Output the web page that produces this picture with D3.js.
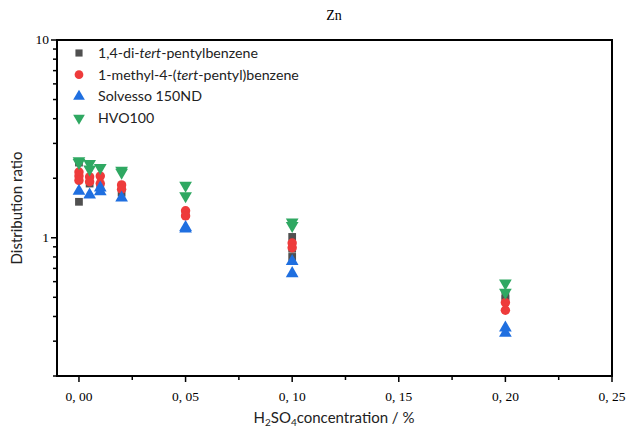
<!DOCTYPE html>
<html><head><meta charset="utf-8">
<script src="https://cdn.jsdelivr.net/npm/d3@7"></script>
<style>body{margin:0;background:#fff}</style>
</head><body><svg id="c" width="627" height="430"></svg>
<script>
const seriesNames = ["1,4-di-tert-pentylbenzene","1-methyl-4-(tert-pentyl)benzene","Solvesso 150ND","HVO100"];
const s1x = [0,0,0.005,0.01,0.02,0.05,0.1,0.1,0.1,0.2,0.2];
const s1y = [2.40,1.52,1.88,1.80,1.69,1.33,1.01,0.88,0.80,0.51,0.49];
const s2x = [0,0,0,0.005,0.005,0.01,0.01,0.02,0.02,0.05,0.05,0.1,0.1,0.2,0.2];
const s2y = [2.15,2.05,1.95,2.03,1.92,2.05,1.88,1.85,1.76,1.37,1.29,0.94,0.89,0.47,0.43];
const s3x = [0,0.005,0.01,0.01,0.02,0.05,0.05,0.1,0.1,0.2,0.2];
const s3y = [1.72,1.65,1.79,1.71,1.59,1.13,1.11,0.76,0.66,0.35,0.33];
const s4x = [0,0,0.005,0.005,0.01,0.02,0.02,0.05,0.05,0.1,0.1,0.2,0.2];
const s4y = [2.45,2.40,2.37,2.22,2.26,2.19,2.14,1.84,1.63,1.20,1.15,0.59,0.53];
const xTicks = [0,0.05,0.10,0.15,0.20,0.25];
const xTickLabels = ["0, 00","0, 05","0, 10","0, 15","0, 20","0, 25"];
const yTicks = [1,10];
const yTickLabels = ["1","10"];

const colors = ["#505050","#ee3b3b","#1f6fe0","#2fa862"];
const shapes = [d3.symbolSquare, d3.symbolCircle, d3.symbolTriangle, d3.symbolTriangle];
const sizes = [60, 70, 70, 70];

const svg = d3.select("#c");
const L=57, R=612, T=40, B=376;
const x = d3.scaleLinear().domain([-0.0103,0.25]).range([L,R]);
const y = d3.scaleLog().domain([0.2,10]).range([B,T]);

// frame
svg.append("rect").attr("x",L).attr("y",T).attr("width",R-L).attr("height",B-T)
  .attr("fill","none").attr("stroke","#000").attr("stroke-width",2);

// x axis
const xMinor = d3.range(0,0.2501,0.025);
svg.append("g").selectAll("line").data(xMinor).join("line")
  .attr("x1",d=>x(d)).attr("x2",d=>x(d)).attr("y1",B).attr("y2",d=>B+ (Math.abs(Math.round(d/0.05)*0.05-d)<1e-9?6:4))
  .attr("stroke","#000").attr("stroke-width",1.5);
svg.append("g").selectAll("text").data(xTicks).join("text")
  .attr("x",d=>x(d)).attr("y",401).attr("text-anchor","middle")
  .attr("font-family","Liberation Serif, serif").attr("font-size",13.5)
  .text((d,i)=>xTickLabels[i]);

// y axis
const yMinor = [];
[0.1,1].forEach(b=>{for(let k=2;k<=9;k++){const v=b*k; if(v>=0.2&&v<=10) yMinor.push(v);}});
svg.append("g").selectAll("line").data(yMinor).join("line")
  .attr("x1",L-4).attr("x2",L).attr("y1",d=>y(d)).attr("y2",d=>y(d))
  .attr("stroke","#000").attr("stroke-width",1.5);
svg.append("g").selectAll("line").data(yTicks).join("line")
  .attr("x1",L-6).attr("x2",L).attr("y1",d=>y(d)).attr("y2",d=>y(d))
  .attr("stroke","#000").attr("stroke-width",1.5);
svg.append("g").selectAll("text").data(yTicks).join("text")
  .attr("x",L-8).attr("y",d=>y(d)+4).attr("text-anchor","end")
  .attr("font-family","Liberation Serif, serif").attr("font-size",13.5)
  .text((d,i)=>yTickLabels[i]);

// titles
svg.append("text").attr("x",334).attr("y",20).attr("text-anchor","middle")
  .attr("font-family","Liberation Serif, serif").attr("font-size",14).text("Zn");
const xt = svg.append("text").attr("x",334).attr("y",423).attr("text-anchor","middle")
  .attr("font-family","Lato, sans-serif").attr("font-size",15).attr("fill","#222");
xt.append("tspan").text("H");
xt.append("tspan").attr("font-size",10).attr("dy",3).text("2");
xt.append("tspan").attr("dy",-3).text("SO");
xt.append("tspan").attr("font-size",10).attr("dy",3).text("4");
xt.append("tspan").attr("dy",-3).text("concentration / %");
svg.append("text").attr("transform","translate(22,208) rotate(-90)").attr("text-anchor","middle")
  .attr("font-family","Lato, sans-serif").attr("font-size",15).attr("fill","#222").text("Distribution ratio");

// data
const data = [[s1x,s1y],[s2x,s2y],[s3x,s3y],[s4x,s4y]];
data.forEach(([xs,ys],i)=>{
  const sym = d3.symbol().type(shapes[i]).size(sizes[i]);
  svg.append("g").selectAll("path").data(xs.map((v,j)=>[v,ys[j]])).join("path")
    .attr("d",sym)
    .attr("transform",d=>`translate(${x(d[0])},${y(d[1])})${i===3?" rotate(180)":""}`)
    .attr("fill",colors[i]);
});

// legend
const lg = svg.append("g");
seriesNames.forEach((n,i)=>{
  const yy = 53 + i*21.7;
  const sym = d3.symbol().type(shapes[i]).size(sizes[i]*0.85);
  lg.append("path").attr("d",sym).attr("transform",`translate(79,${yy})${i===3?" rotate(180)":""}`).attr("fill",colors[i]);
  const t = lg.append("text").attr("x",98).attr("y",yy+5).attr("font-family","Lato, sans-serif").attr("font-size",14.2).attr("fill","#222");
  const m = n.split("tert");
  if(m.length>1){
    t.append("tspan").text(m[0]);
    t.append("tspan").attr("font-style","italic").text("tert");
    t.append("tspan").text(m[1]);
  } else t.text(n);
});
</script></body></html>
